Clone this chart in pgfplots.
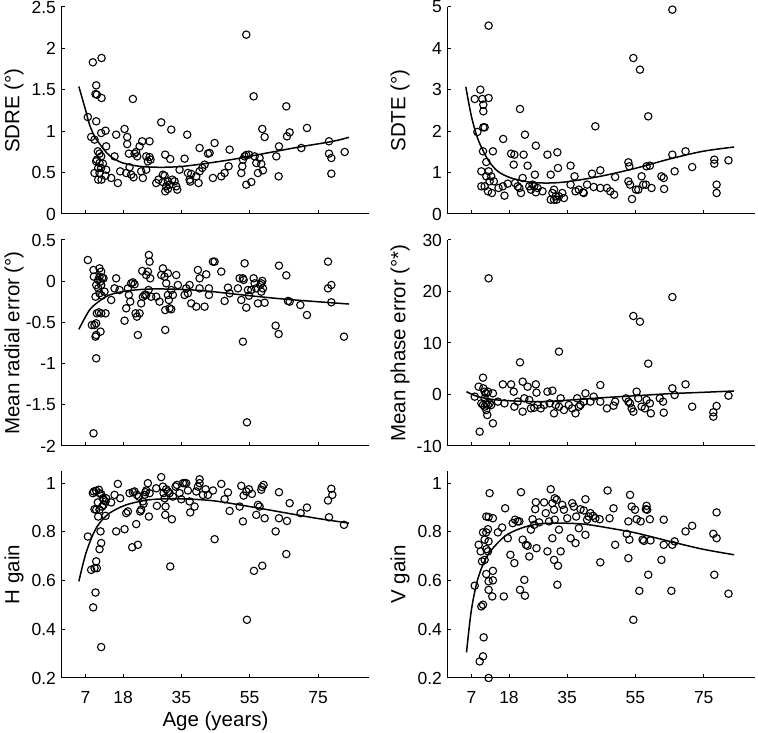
\documentclass[border=0pt]{standalone}
\usepackage{fontspec}
\setmainfont{Liberation Sans}
\usepackage{pgfplots}
\pgfplotsset{compat=1.18}
\pgfplotsset{
  panel/.style={
    scale only axis, width=308pt, height=207pt,
    axis lines=left, axis line style={-, line width=1pt, black},
    tick style={line width=1pt, black}, major tick length=3.5pt, tick align=inside,
    xmin=0, xmax=90, xtick={7,18,35,55,75}, clip=false,
    /pgf/number format/assume math mode=true,
    ticklabel style={font=\fontsize{17.5}{20}\selectfont},
    yticklabel style={xshift=-2pt},
    xticklabel style={yshift=-10pt},
    every axis y label/.style={at={(axis description cs:-0.154,0.5)}, rotate=90, anchor=center, font=\fontsize{20.5}{24}\selectfont},
    every axis x label/.style={at={(axis description cs:0.5,-0.211)}, anchor=center, font=\fontsize{20.5}{24}\selectfont},
    anchor=south west,
  },
  pts/.style={only marks, mark=o, mark size=3.7pt, mark options={line width=1.1pt, black, solid}},
  fit/.style={black, line width=1.5pt, smooth, no marks},
}
\begin{document}
\begin{tikzpicture}
% ---------- SDRE ----------
\begin{axis}[panel, at={(61.5pt,519pt)}, ymin=0, ymax=2.5, ytick={0,0.5,1,1.5,2,2.5}, xticklabels={}, ylabel={SDRE (°)}]
\addplot[pts] coordinates {
(9.16,1.832)(11.70,1.884)(10.14,1.554)(9.94,1.449)(10.33,1.441)(11.70,1.401)(7.70,1.171)(10.14,1.119)
(8.67,0.930)(9.65,0.898)(11.60,0.978)(12.87,1.006)(13.06,0.817)(10.62,0.757)(11.11,0.729)(11.60,0.696)
(10.33,0.656)(11.11,0.616)(12.09,0.608)(9.65,0.495)(11.11,0.495)(10.72,0.556)(11.60,0.556)(10.14,0.636)
(10.72,0.415)(11.70,0.415)(12.87,0.463)(13.06,0.535)(14.52,0.435)(15.50,0.696)(15.98,0.958)(16.47,0.374)
(17.15,0.515)(18.42,1.027)(19.20,0.930)(19.20,0.845)(19.69,0.729)(18.91,0.495)(19.88,0.564)(20.37,0.475)
(21.05,0.443)(21.35,0.729)(21.83,0.749)(22.12,0.696)(20.86,1.389)(22.81,0.817)(23.59,0.878)(23.78,0.435)
(24.76,0.696)(25.24,0.636)(25.73,0.878)(25.73,0.688)(26.02,0.656)(24.76,0.535)(23.29,0.515)(27.68,0.374)
(28.36,0.415)(29.14,1.107)(29.63,0.475)(30.31,0.717)(30.60,0.334)(31.09,0.395)(30.31,0.274)(31.09,0.302)
(31.58,0.354)(32.07,1.019)(31.77,0.664)(32.36,0.415)(33.04,0.395)(33.53,0.334)(33.82,0.294)(29.63,0.386)
(30.12,0.463)(34.50,0.535)(35.96,0.668)(36.74,0.958)(36.94,0.495)(37.43,0.415)(37.62,0.391)(37.91,0.483)
(39.38,0.455)(40.06,0.374)(40.35,0.797)(40.35,0.515)(41.13,0.556)(41.81,0.596)(42.79,0.729)(43.27,0.737)
(44.25,0.435)(44.74,0.857)(46.69,0.455)(47.66,0.495)(48.83,0.576)(49.12,0.777)(52.53,0.495)(52.83,0.576)
(53.02,0.656)(53.51,0.696)(54.00,0.713)(54.78,0.717)(54.00,0.354)(55.46,0.386)(54.00,2.166)(56.14,1.421)
(56.43,0.696)(56.92,0.616)(57.41,0.495)(57.89,0.676)(58.38,0.604)(58.67,1.027)(59.36,0.930)(58.87,0.527)
(62.77,0.696)(63.55,0.817)(63.45,0.455)(65.69,1.300)(65.89,0.938)(66.67,0.986)(70.08,0.797)(71.73,1.039)
(78.17,0.878)(78.17,0.729)(78.85,0.676)(78.85,0.487)(82.75,0.749)
};
\addplot[fit] coordinates {
(5.07,1.54)(7.0,1.26)(8.19,1.079)(9.65,0.938)(11.11,0.849)(13.06,0.745)(15.0,0.676)(17.93,0.616)
(22.8,0.576)(28.65,0.564)(34.5,0.572)(40.35,0.600)(50.1,0.660)(59.84,0.735)(69.59,0.810)(79.34,0.878)(84.0,0.926)
};
\end{axis}
% ---------- SDTE ----------
\begin{axis}[panel, at={(447.5pt,519pt)}, width=307.5pt, ymin=0, ymax=5, ytick={0,1,2,3,4,5}, xticklabels={}, ylabel={SDTE (°)}]
\addplot[pts] coordinates {
(7.97,2.778)(9.61,3.003)(10.19,2.778)(12.03,2.802)(10.48,2.641)(10.48,2.480)(10.48,2.093)(10.87,2.093)
(8.74,1.981)(12.03,4.549)(10.39,1.514)(13.29,1.514)(11.35,1.256)(9.90,1.031)(11.35,0.910)(12.03,1.031)
(12.32,0.789)(12.80,0.910)(10.87,0.668)(9.90,0.668)(11.84,0.548)(12.99,0.507)(13.57,0.789)(14.93,0.628)
(16.19,0.668)(16.67,0.443)(17.64,0.733)(16.29,1.812)(18.61,1.457)(19.57,1.433)(19.38,1.192)(19.77,0.749)
(20.54,0.668)(21.03,0.628)(21.51,0.507)(21.22,2.536)(21.99,0.870)(22.67,1.916)(22.28,1.433)(23.44,1.167)
(23.93,0.668)(24.41,0.588)(24.89,0.709)(25.57,0.950)(25.86,1.651)(25.86,0.523)(25.38,0.668)(26.35,0.628)
(27.80,0.548)(29.25,1.433)(30.21,0.950)(30.70,0.507)(31.18,0.588)(31.67,0.427)(32.15,1.490)(32.34,1.111)
(32.63,0.427)(31.96,0.346)(31.18,0.346)(30.21,0.346)(33.60,0.507)(34.08,0.386)(36.02,1.167)(36.02,0.709)
(37.18,0.910)(37.47,0.548)(38.44,0.588)(39.69,0.523)(39.88,0.507)(40.85,0.709)(42.30,0.974)(42.79,0.652)
(43.27,2.118)(44.72,1.055)(44.72,0.628)(46.66,0.628)(47.62,0.548)(48.78,0.467)(49.07,0.894)(52.94,1.248)
(53.23,1.151)(52.94,0.789)(53.43,0.709)(54.0,0.362)(54.39,3.768)(55.17,0.588)(55.84,0.588)(56.33,3.486)
(56.81,0.910)(57.29,0.709)(58.07,0.709)(58.26,1.151)(58.75,2.359)(59.23,1.167)(59.71,0.628)(62.62,0.910)
(63.29,0.870)(63.39,0.604)(65.81,1.433)(65.81,4.936)(66.48,1.031)(69.67,1.514)(71.61,1.135)(78.09,1.312)
(78.09,1.216)(78.76,0.709)(78.76,0.507)(82.24,1.296)
};
\addplot[fit] coordinates {
(5.36,3.07)(7.0,2.36)(8.94,1.80)(11.84,1.31)(14.74,1.03)(18.61,0.87)(24.41,0.765)(30.21,0.749)
(36.02,0.789)(45.69,0.926)(55.36,1.111)(65.03,1.329)(74.7,1.514)(83.9,1.618)
};
\end{axis}
% ---------- Mean radial error ----------
\begin{axis}[panel, at={(61.5pt,287pt)}, height=206pt, ymin=-2, ymax=0.5, ytick={-2,-1.5,-1,-0.5,0,0.5}, xticklabels={}, ylabel={Mean radial error (°)}]
\addplot[pts] coordinates {
(7.70,0.257)(9.36,0.136)(9.45,0.055)(10.14,-0.046)(9.94,-0.188)(10.33,-0.390)(9.65,-0.532)(8.87,-0.532)
(10.14,-0.511)(10.14,-0.653)(9.94,-0.673)(10.14,-0.936)(9.36,-1.846)(11.11,0.156)(11.60,0.116)(11.11,0.055)
(11.89,0.043)(10.72,0.015)(11.31,-0.006)(12.28,0.035)(11.60,-0.046)(10.72,-0.087)(11.11,-0.147)(11.79,-0.176)
(12.57,-0.127)(10.92,-0.378)(11.60,-0.390)(11.40,-0.612)(12.87,-0.390)(14.52,-0.228)(15.98,0.035)(15.50,-0.087)
(16.96,-0.107)(18.42,-0.479)(18.91,-0.329)(19.40,-0.087)(19.69,-0.167)(20.08,-0.248)(20.37,-0.026)(20.86,-0.014)
(21.35,-0.038)(21.64,-0.390)(22.03,-0.430)(22.32,-0.653)(22.81,-0.390)(23.29,-0.269)(23.59,0.124)(23.78,-0.188)
(24.27,-0.167)(24.76,0.075)(25.24,0.116)(25.54,0.318)(25.73,0.237)(25.93,0.035)(25.44,-0.107)(26.22,-0.188)
(24.76,-0.167)(27.68,-0.188)(28.65,-0.248)(29.14,0.075)(29.63,0.156)(30.12,0.055)(30.31,-0.350)(30.60,-0.026)
(31.09,0.095)(31.09,-0.167)(30.31,-0.592)(31.38,-0.228)(31.58,-0.329)(32.07,-0.107)(32.07,-0.341)(32.55,-0.167)
(33.53,0.075)(34.02,-0.046)(35.96,-0.167)(36.45,-0.087)(36.94,-0.147)(37.43,-0.046)(37.91,-0.269)(39.38,-0.309)
(39.86,0.136)(40.35,0.035)(40.35,-0.087)(41.81,-0.309)(42.30,0.083)(43.08,-0.087)(43.08,-0.167)(44.25,0.237)
(44.74,0.237)(46.69,0.116)(47.66,-0.240)(48.64,-0.078)(49.12,-0.147)(51.56,-0.087)(52.05,0.035)(52.53,-0.228)
(53.02,0.035)(53.22,0.015)(53.51,0.217)(54.00,-0.321)(54.48,-0.107)(54.78,-0.176)(55.46,-0.107)(56.14,0.035)
(56.43,-0.026)(56.92,-0.087)(57.41,-0.269)(58.09,-0.046)(58.38,-0.026)(58.67,0.003)(58.87,-0.087)(59.36,-0.261)
(58.38,-0.127)(53.02,-0.734)(54.19,-1.713)(62.57,-0.540)(63.45,-0.641)(63.55,0.189)(65.69,0.071)(66.18,-0.240)
(66.67,-0.248)(69.79,-0.289)(71.73,-0.410)(77.88,0.237)(77.88,-0.087)(78.85,-0.046)(78.85,-0.256)(82.55,-0.673)
};
\addplot[fit] coordinates {
(5.07,-0.584)(8.19,-0.350)(11.11,-0.240)(14.04,-0.167)(18.91,-0.119)(25.73,-0.095)(34.5,-0.099)
(42.3,-0.119)(54.97,-0.176)(64.72,-0.216)(74.46,-0.248)(84.0,-0.277)
};
\end{axis}
% ---------- Mean phase error ----------
\begin{axis}[panel, at={(447.5pt,287pt)}, width=307.5pt, height=206pt, ymin=-10, ymax=30, ytick={-10,0,10,20,30}, xticklabels={}, ylabel={Mean phase error (°*)}]
\addplot[pts] coordinates {
(12.03,22.56)(32.63,8.32)(21.22,6.25)(54.39,15.24)(56.33,14.14)(58.75,5.99)(65.81,18.93)(7.97,-0.42)
(9.13,1.52)(10.39,3.27)(10.48,1.20)(10.87,0.55)(11.35,0.23)(11.84,0.55)(9.90,-1.72)(10.39,-2.04)
(10.87,-2.36)(11.35,-1.72)(11.84,-2.04)(12.32,-1.72)(11.35,-3.01)(11.64,-3.98)(13.29,0.23)(13.29,-5.60)
(9.42,-7.22)(10.87,-0.74)(12.80,-2.04)(14.74,-1.39)(16.19,1.97)(16.67,-1.72)(18.61,1.97)(19.38,0.55)
(19.57,-2.36)(20.54,-1.39)(22.0,2.49)(22.0,-3.33)(22.48,-0.74)(23.44,1.52)(23.93,-1.07)(24.41,-2.69)
(25.38,-2.56)(25.86,1.97)(26.05,0.36)(26.35,-2.04)(27.31,-2.69)(28.28,-2.04)(29.25,0.55)(29.92,-1.72)
(30.70,0.74)(31.18,-3.66)(31.67,-2.04)(32.63,-2.36)(33.12,-0.74)(34.08,-3.01)(35.53,-2.04)(36.49,-2.69)
(37.47,-3.66)(37.95,-0.74)(38.44,-2.36)(38.92,-2.04)(39.88,-1.39)(40.37,0.23)(41.82,-1.39)(42.79,-0.42)
(44.72,1.84)(44.72,-1.39)(46.66,-2.69)(48.59,-2.17)(49.07,-1.39)(52.26,-0.74)(52.94,-1.39)(53.43,-1.72)
(53.91,-2.69)(54.39,-3.33)(55.36,0.55)(55.84,-0.74)(56.81,-2.36)(57.78,-2.69)(58.26,-1.07)(59.23,-1.72)
(59.51,-3.66)(62.13,-0.74)(63.10,-1.39)(63.29,-3.53)(65.81,1.20)(66.48,-0.10)(69.67,1.97)(71.61,-2.36)
(77.80,-3.46)(77.80,-4.30)(78.76,-2.23)(82.24,-0.23)
};
\addplot[fit] coordinates {
(5.56,0.55)(8.94,-0.42)(14.74,-1.07)(26.35,-1.39)(36.0,-1.07)(45.7,-0.61)(55.4,-0.23)(65.0,0.16)(74.7,0.42)(83.9,0.68)
};
\end{axis}
% ---------- H gain ----------
\begin{axis}[panel, at={(61.5pt,55pt)}, ymin=0.2, ymax=1.05, ytick={0.2,0.4,0.6,0.8,1}, xlabel={Age (years)}, ylabel={H gain}]
\addplot[pts] coordinates {
(7.70,0.781)(8.67,0.644)(9.26,0.490)(9.94,0.551)(10.14,0.679)(9.65,0.651)(10.33,0.651)(11.60,0.327)
(11.11,0.729)(11.60,0.754)(11.40,0.802)(9.16,0.959)(9.45,0.966)(10.14,0.969)(10.92,0.973)(11.11,0.959)
(11.60,0.955)(12.09,0.938)(12.38,0.932)(12.87,0.925)(13.06,0.938)(10.62,0.921)(10.14,0.891)(10.72,0.863)
(9.65,0.893)(11.11,0.891)(11.89,0.904)(12.28,0.911)(12.87,0.866)(14.52,0.921)(15.50,0.952)(15.98,0.802)
(16.47,0.997)(17.15,0.938)(18.42,0.811)(18.91,0.877)(19.40,0.884)(19.88,0.959)(20.66,0.737)(20.86,0.963)
(21.35,0.966)(21.83,0.832)(22.03,0.952)(22.32,0.747)(22.61,0.945)(23.0,0.884)(23.29,0.891)(23.78,0.925)
(23.98,0.915)(24.27,0.952)(24.56,0.963)(24.76,0.970)(25.24,1.0)(25.54,0.863)(25.73,0.959)(27.68,0.979)
(27.88,0.907)(29.14,1.025)(29.63,0.986)(29.82,0.959)(30.12,0.938)(30.31,0.870)(30.41,0.904)(30.60,0.975)
(31.09,0.966)(31.58,0.959)(31.77,0.658)(32.26,0.852)(32.55,0.945)(33.33,0.986)(33.72,0.993)(34.50,0.959)
(34.99,0.934)(35.48,1.0)(35.96,1.0)(36.45,1.0)(36.94,0.970)(37.43,0.925)(37.62,0.880)(38.89,0.904)
(39.38,0.966)(39.86,0.986)(40.35,1.016)(40.35,1.0)(41.33,0.952)(42.11,0.975)(42.79,0.952)(44.25,0.970)
(44.74,0.770)(46.69,0.997)(47.66,0.934)(48.64,0.962)(49.12,0.886)(52.05,0.904)(52.53,0.989)(53.02,0.843)
(53.22,0.949)(54.0,0.966)(54.19,0.439)(54.78,0.975)(55.65,0.956)(56.24,0.640)(56.92,0.870)(57.41,0.911)
(57.89,0.904)(58.38,0.973)(58.58,0.984)(58.67,0.661)(59.06,0.993)(59.36,0.856)(62.57,0.802)(63.55,0.963)
(63.55,0.856)(65.69,0.709)(65.89,0.845)(66.67,0.918)(69.88,0.877)(71.73,0.900)(77.88,0.929)(78.17,0.860)
(78.85,0.977)(79.14,0.952)(82.55,0.829)
};
\addplot[fit] coordinates {
(5.07,0.597)(7.0,0.706)(9.16,0.788)(11.11,0.836)(14.04,0.877)(18.91,0.911)(25.73,0.932)(34.5,0.936)
(44.25,0.928)(54.97,0.904)(64.72,0.880)(74.46,0.856)(84.0,0.836)
};
\end{axis}
% ---------- V gain ----------
\begin{axis}[panel, at={(447.5pt,55pt)}, width=307.5pt, ymin=0.2, ymax=1.05, ytick={0.2,0.4,0.6,0.8,1}, ylabel={V gain}]
\addplot[pts] coordinates {
(7.97,0.579)(9.42,0.268)(10.39,0.289)(10.58,0.367)(9.90,0.494)(10.39,0.501)(9.13,0.747)(9.71,0.720)
(10.10,0.679)(10.87,0.685)(11.35,0.729)(10.87,0.768)(10.39,0.798)(11.35,0.798)(11.84,0.720)(12.03,0.761)
(11.84,0.811)(11.35,0.863)(12.03,0.861)(12.32,0.959)(13.29,0.856)(13.29,0.640)(13.29,0.601)(13.10,0.535)
(12.03,0.562)(12.03,0.597)(11.35,0.627)(12.03,0.2)(14.74,0.798)(15.99,0.818)(16.48,0.535)(16.87,0.897)
(17.64,0.774)(18.41,0.706)(19.57,0.672)(19.09,0.836)(19.77,0.850)(20.54,0.843)(21.03,0.843)(21.51,0.963)
(21.22,0.562)(22.0,0.768)(22.48,0.603)(22.67,0.538)(22.96,0.747)(23.44,0.743)(23.93,0.699)(24.41,0.809)
(24.89,0.852)(25.38,0.829)(25.67,0.893)(25.86,0.922)(26.05,0.733)(26.83,0.839)(28.28,0.921)(28.76,0.877)
(29.25,0.720)(29.73,0.843)(30.21,0.975)(30.70,0.774)(30.70,0.918)(31.18,0.891)(31.38,0.850)(31.18,0.685)
(31.38,0.938)(31.96,0.932)(32.34,0.661)(32.15,0.583)(32.63,0.809)(33.12,0.720)(33.60,0.911)(34.08,0.891)
(35.05,0.856)(36.02,0.774)(36.50,0.918)(36.98,0.904)(37.47,0.754)(37.66,0.863)(38.44,0.815)(38.92,0.893)
(39.88,0.888)(40.37,0.934)(40.37,0.788)(40.85,0.850)(41.33,0.863)(41.82,0.877)(42.59,0.866)(43.27,0.856)
(44.53,0.852)(44.72,0.675)(46.85,0.970)(47.43,0.856)(48.59,0.897)(49.07,0.747)(52.45,0.792)(52.94,0.843)
(53.23,0.768)(52.94,0.692)(53.43,0.952)(53.91,0.904)(54.39,0.439)(54.88,0.891)(55.36,0.852)(56.14,0.558)
(56.52,0.843)(57.10,0.768)(57.49,0.763)(58.07,0.893)(58.26,0.907)(58.45,0.891)(58.75,0.624)(59.23,0.852)
(59.42,0.765)(62.62,0.685)(63.29,0.850)(63.29,0.747)(65.52,0.558)(65.81,0.747)(66.48,0.761)(69.67,0.802)
(71.61,0.825)(77.80,0.792)(78.09,0.624)(78.76,0.880)(78.76,0.774)(82.24,0.546)
};
\addplot[fit] coordinates {
(5.56,0.305)(7.0,0.480)(8.94,0.610)(11.84,0.706)(16.67,0.781)(21.51,0.815)(26.35,0.832)(32.15,0.836)
(39.88,0.832)(47.62,0.815)(55.36,0.795)(65.03,0.761)(74.7,0.729)(83.9,0.706)
};
\end{axis}
\pgfresetboundingbox
\useasboundingbox (0,0) rectangle (758pt,733pt);
\end{tikzpicture}
\end{document}
